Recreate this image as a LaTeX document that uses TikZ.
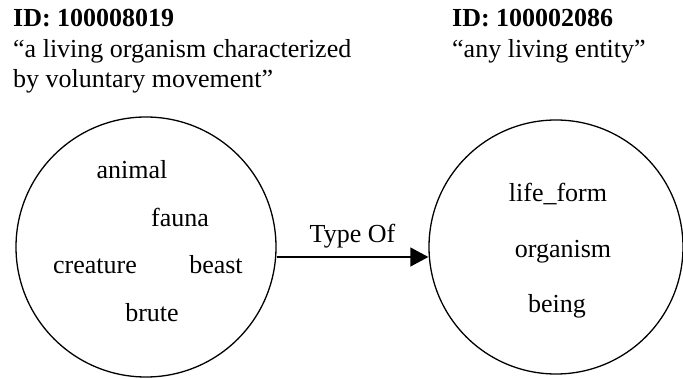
\documentclass[tikz,border=0pt]{standalone}
\usepackage{fontspec}
\setmainfont{Liberation Serif}
\usetikzlibrary{arrows.meta}
\tikzset{
	synset/.style={draw,circle,line width=1.3pt,minimum size=#1,inner sep=0pt},
	word/.style={anchor=base,inner sep=0pt},
	gloss/.style={anchor=base west,inner sep=0pt}
}
\begin{document}
\begin{tikzpicture}[x=1pt,y=-1pt,line join=round,font=\fontsize{26}{30}\selectfont]
	\useasboundingbox (0,0) rectangle (683,379);
	%Tiêu đề
	\node[gloss] (id1) at (13,27) {\textbf{ID: 100008019}};
	\node[gloss] (g1) at (13,58) {``a living organism characterized};
	\node[gloss] (g2) at (13,88) {by voluntary movement''};
	\node[gloss] (id2) at (452,27) {\textbf{ID: 100002086}};
	\node[gloss] (g3) at (452,58) {``any living entity''};
	%Hình tròn
	\node[synset=260pt] (animal) at (146,247) {};
	\node[synset=254pt] (lifeform) at (556,247) {};
	%Các từ
	\node[word] (w1) at (132,179) {animal};
	\node[word] (w2) at (180,227) {fauna};
	\node[word] (w3) at (95,274) {creature};
	\node[word] (w4) at (216,274) {beast};
	\node[word] (w5) at (152,322) {brute};
	\node[word] (w6) at (558,202) {life\_form};
	\node[word] (w7) at (563,258) {organism};
	\node[word] (w8) at (557,313) {being};
	%Mũi tên
	\draw[line width=1.3pt,-{Triangle[length=18pt,width=19pt]}] ([yshift=-10pt]animal.east) -- ([yshift=-10pt]lifeform.west)
		node[midway,above=8pt,inner sep=0pt] (rel) {Type Of};
\end{tikzpicture}
\end{document}
